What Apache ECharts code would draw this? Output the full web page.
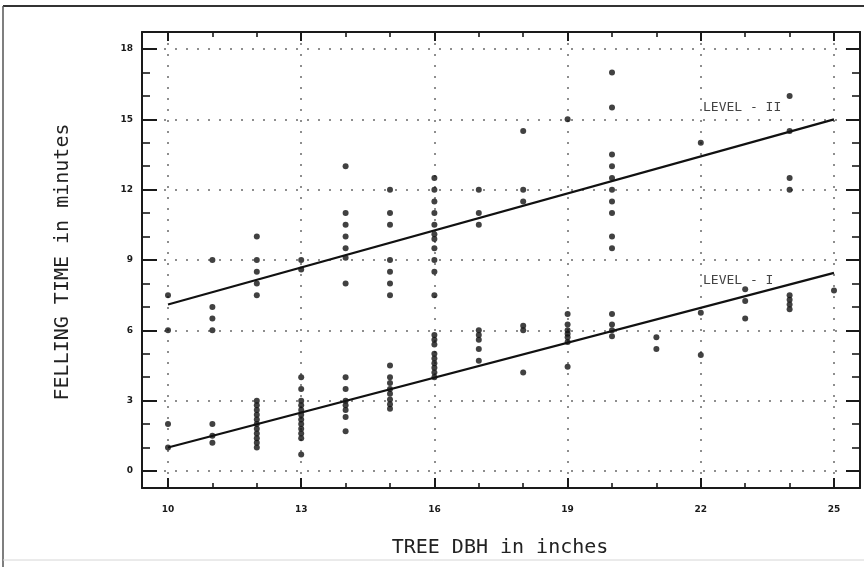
<!DOCTYPE html>
<html>
<head>
<meta charset="utf-8">
<script src="https://cdn.jsdelivr.net/npm/echarts@6/dist/echarts.min.js"></script>
<style>
html, body { margin: 0; padding: 0; background: #fff; }
#chart { width: 864px; height: 567px; }
</style>
</head>
<body>
<div id="chart"></div>
<script>
// tree diameter classes, inches
var dbh = [10, 11, 12, 13, 14, 15, 16, 17, 18, 19, 20, 21, 22, 23, 24, 25];
// felling times observed at each diameter, minutes
var times = [
    [7.5, 6.0, 2.0, 1.0],
    [9.0, 7.0, 6.5, 6.0, 2.0, 1.5, 1.2],
    [10.0, 9.0, 8.5, 8.0, 7.5, 3.0, 2.8, 2.6, 2.4, 2.2, 2.0, 1.8, 1.6, 1.4, 1.2, 1.0],
    [9.0, 8.6, 4.0, 3.5, 3.0, 2.8, 2.6, 2.4, 2.2, 2.0, 1.8, 1.6, 1.4, 0.7],
    [13.0, 11.0, 10.5, 10.0, 9.5, 9.1, 8.0, 4.0, 3.5, 3.0, 2.8, 2.6, 2.3, 1.7],
    [12.0, 11.0, 10.5, 9.0, 8.5, 8.0, 7.5, 4.5, 4.0, 3.75, 3.5, 3.3, 3.05, 2.85, 2.65],
    [12.5, 12.0, 11.5, 11.0, 10.5, 10.1, 9.9, 9.5, 9.0, 8.5, 7.5, 5.8, 5.6, 5.4, 5.0, 4.8, 4.6, 4.4, 4.2, 4.0],
    [12.0, 11.0, 10.5, 6.0, 5.8, 5.6, 5.2, 4.7],
    [14.5, 12.0, 11.5, 6.2, 6.0, 4.2],
    [15.0, 6.7, 6.25, 6.0, 5.85, 5.7, 5.5, 4.45],
    [17.0, 15.5, 13.5, 13.0, 12.5, 12.0, 11.5, 11.0, 10.0, 9.5, 6.7, 6.25, 6.0, 5.75],
    [5.7, 5.2],
    [14.0, 6.75, 4.95],
    [7.75, 7.25, 6.5],
    [16.0, 14.5, 12.5, 12.0, 7.5, 7.3, 7.1, 6.9],
    [7.7]
];
// fitted lines, end points at dbh 10 and 25
var lineDbh = [10, 25];
var level1 = [1.0, 8.45];
var level2 = [7.1, 15.0];
// tick labels
var xTicks = [10, 13, 16, 19, 22, 25];
var yTicks = [0, 3, 6, 9, 12, 15, 18];

var points = [];
for (var i = 0; i < dbh.length; i++) {
    for (var j = 0; j < times[i].length; j++) {
        points.push([dbh[i], times[i][j]]);
    }
}
function linePts(ys) {
    return lineDbh.map(function (x, k) { return [x, ys[k]]; });
}

var ink = '#1a1a1a';
var dotted = { type: [2, 9], color: '#8e8e8e', width: 2 };
var hidden = { type: 'value', show: false, min: 0, max: 1 };

function frameAxis(grid, pos) {
    return {
        type: 'value', gridIndex: grid, position: pos, min: 0, max: 1,
        axisLine: { show: true, onZero: false, lineStyle: { color: ink, width: 2 } },
        axisTick: { show: false }, axisLabel: { show: false }, splitLine: { show: false }
    };
}
function tickAxis(grid, pos, lo, hi, labels, len, minorLen, withLabels) {
    return {
        type: 'value', gridIndex: grid, position: pos, min: lo, max: hi, interval: 3,
        axisLine: { show: false, onZero: false },
        axisTick: { show: true, inside: true, length: len, lineStyle: { color: ink, width: 2 } },
        minorTick: { show: true, splitNumber: 3, length: minorLen, lineStyle: { color: ink, width: 1.6 } },
        axisLabel: {
            show: withLabels, margin: pos === 'bottom' ? 17 : 9,
            fontFamily: 'DejaVu Sans', fontWeight: 'bold', fontSize: 9, color: ink,
            formatter: function (v) { return labels.indexOf(v) >= 0 ? String(v) : ''; }
        },
        splitLine: { show: withLabels, lineStyle: dotted }
    };
}

var chart = echarts.init(document.getElementById('chart'));
chart.setOption({
    animation: false,
    backgroundColor: '#fff',
    grid: [
        { left: 142, right: 4, top: 32, bottom: 79 },   // frame
        { left: 168, right: 30, top: 32, bottom: 79 },  // x ticks
        { left: 142, right: 4, top: 49, bottom: 96 },   // y ticks
        { left: 168, right: 30, top: 49, bottom: 96 }   // data
    ],
    xAxis: [
        frameAxis(0, 'bottom'),
        frameAxis(0, 'top'),
        tickAxis(1, 'bottom', 10, 25, xTicks, 10, 5, true),
        tickAxis(1, 'top', 10, 25, xTicks, 9, 5, false),
        Object.assign({ gridIndex: 2 }, hidden),
        { type: 'value', gridIndex: 3, show: false, min: 10, max: 25 }
    ],
    yAxis: [
        frameAxis(0, 'left'),
        frameAxis(0, 'right'),
        Object.assign({ gridIndex: 1 }, hidden),
        tickAxis(2, 'left', 0, 18, yTicks, 15, 8, true),
        tickAxis(2, 'right', 0, 18, yTicks, 14, 8, false),
        { type: 'value', gridIndex: 3, show: false, min: 0, max: 18 }
    ],
    series: [
        {
            name: 'observed', type: 'scatter', xAxisIndex: 5, yAxisIndex: 5,
            symbolSize: 6, itemStyle: { color: '#111' }, data: points
        },
        {
            name: 'LEVEL - I', type: 'line', xAxisIndex: 5, yAxisIndex: 5,
            showSymbol: false, lineStyle: { color: '#111', width: 2.2 }, data: linePts(level1)
        },
        {
            name: 'LEVEL - II', type: 'line', xAxisIndex: 5, yAxisIndex: 5,
            showSymbol: false, lineStyle: { color: '#111', width: 2.2 }, data: linePts(level2)
        }
    ],
    graphic: [
        { type: 'line', shape: { x1: 3, y1: 6, x2: 864, y2: 6 }, style: { stroke: '#333', lineWidth: 2 } },
        { type: 'line', shape: { x1: 3, y1: 6, x2: 3, y2: 567 }, style: { stroke: '#555', lineWidth: 1.5 } },
        { type: 'line', shape: { x1: 3, y1: 560, x2: 864, y2: 560 }, style: { stroke: '#d6d6d6', lineWidth: 1 } },
        {
            type: 'text', x: 500, y: 548,
            style: { text: 'TREE DBH in inches', font: '20px "DejaVu Sans Mono"', fill: '#222', align: 'center', verticalAlign: 'middle' }
        },
        {
            type: 'text', x: 63, y: 262, rotation: Math.PI / 2,
            style: { text: 'FELLING TIME in minutes', font: '20px "DejaVu Sans Mono"', fill: '#222', align: 'center', verticalAlign: 'middle' }
        },
        {
            type: 'text', x: 703, y: 108,
            style: { text: 'LEVEL - II', font: '13px "DejaVu Sans Mono"', fill: '#444', align: 'left', verticalAlign: 'middle' }
        },
        {
            type: 'text', x: 703, y: 281,
            style: { text: 'LEVEL - I', font: '13px "DejaVu Sans Mono"', fill: '#444', align: 'left', verticalAlign: 'middle' }
        }
    ]
});
</script>
</body>
</html>
